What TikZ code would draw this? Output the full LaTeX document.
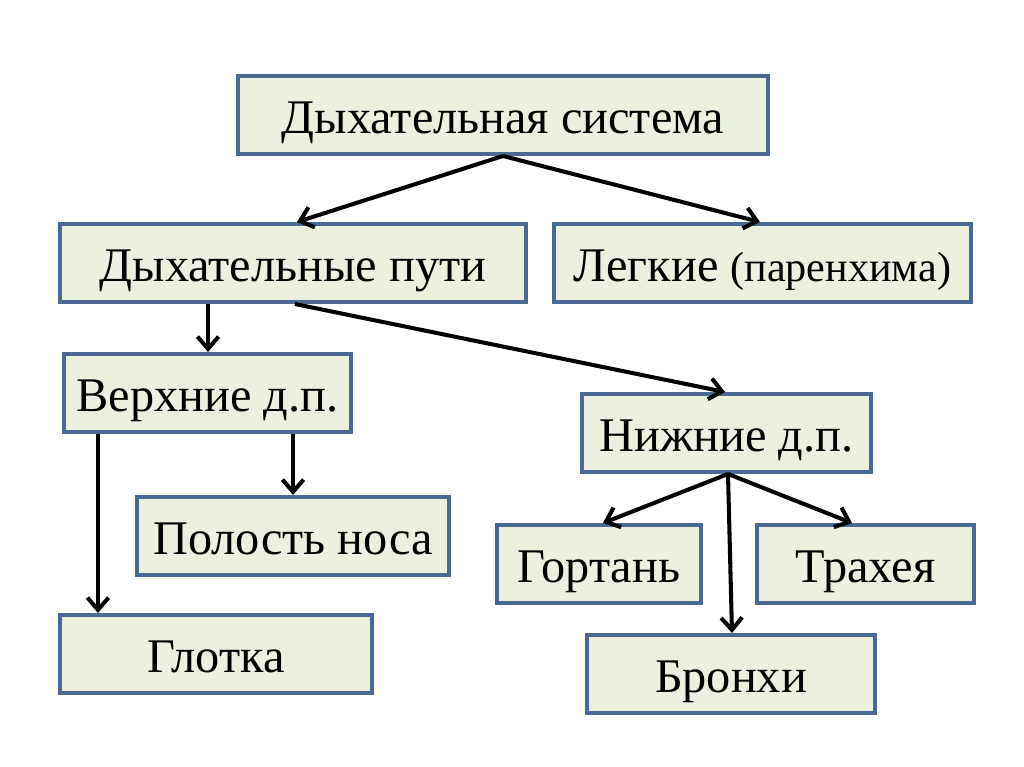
\documentclass[tikz,border=0pt]{standalone}
\usepackage{fontspec}
\setmainfont{Liberation Serif}
\usetikzlibrary{arrows.meta}
\definecolor{boxfill}{HTML}{EBF1DE}
\definecolor{boxline}{HTML}{4A6A94}
\begin{document}
\begin{tikzpicture}[x=0.02cm,y=-0.02cm,
  box/.style={draw=boxline,fill=boxfill,line width=2pt,inner sep=0pt,text height=20.5pt,text depth=0pt,font=\fontsize{27.5}{32}\selectfont},
  arr/.style={draw=black,line width=2.3pt,-{Straight Barb[length=7pt,width=12pt,line width=2.3pt]}}]
\useasboundingbox (0,0) rectangle (1024,767);
\fill[white] (0,0) rectangle (1024,767);
\newcommand\bx[6]{\node[box,minimum width=#4*0.02cm-2pt,minimum height=#5*0.02cm-2pt] (#1) at (#2+#4/2,#3+#5/2) {#6};}
\bx{sys}{236}{74}{534}{82}{Дыхательная система}
\bx{put}{58}{222}{470}{82}{Дыхательные пути}
\bx{leg}{552}{222}{421}{82}{Легкие {\fontsize{24}{28}\selectfont(паренхима)}}
\bx{ver}{62}{352}{291}{82}{Верхние д.п.}
\bx{niz}{580}{392}{293}{82}{Нижние д.п.}
\bx{nos}{135}{495}{316}{82}{Полость носа}
\bx{glo}{58}{613}{316}{82}{Глотка}
\bx{gor}{495}{523}{208}{82}{Гортань}
\bx{tra}{755}{523}{221}{82}{Трахея}
\bx{bro}{585}{633}{292}{82}{Бронхи}
\coordinate (s1) at (503,156);
\coordinate (p1) at (208,304);
\coordinate (p2) at (295,304);
\coordinate (v1) at (98,434);
\coordinate (v2) at (293,434);
\coordinate (n1) at (728,474);
\draw[arr] (s1) -- (put.north -| 297,0);
\draw[arr] (s1) -- (leg.north -| 760,0);
\draw[arr] (p1) -- (ver.north -| p1);
\draw[arr] (p2) -- (niz.north -| 725,0);
\draw[arr] (v1) -- (glo.north -| v1);
\draw[arr] (v2) -- (nos.north -| v2);
\draw[arr] (n1) -- (gor.north -| 603,0);
\draw[arr] (n1) -- (tra.north -| 852,0);
\draw[arr] (n1) -- (bro.north -| 732,0);
\end{tikzpicture}
\end{document}
